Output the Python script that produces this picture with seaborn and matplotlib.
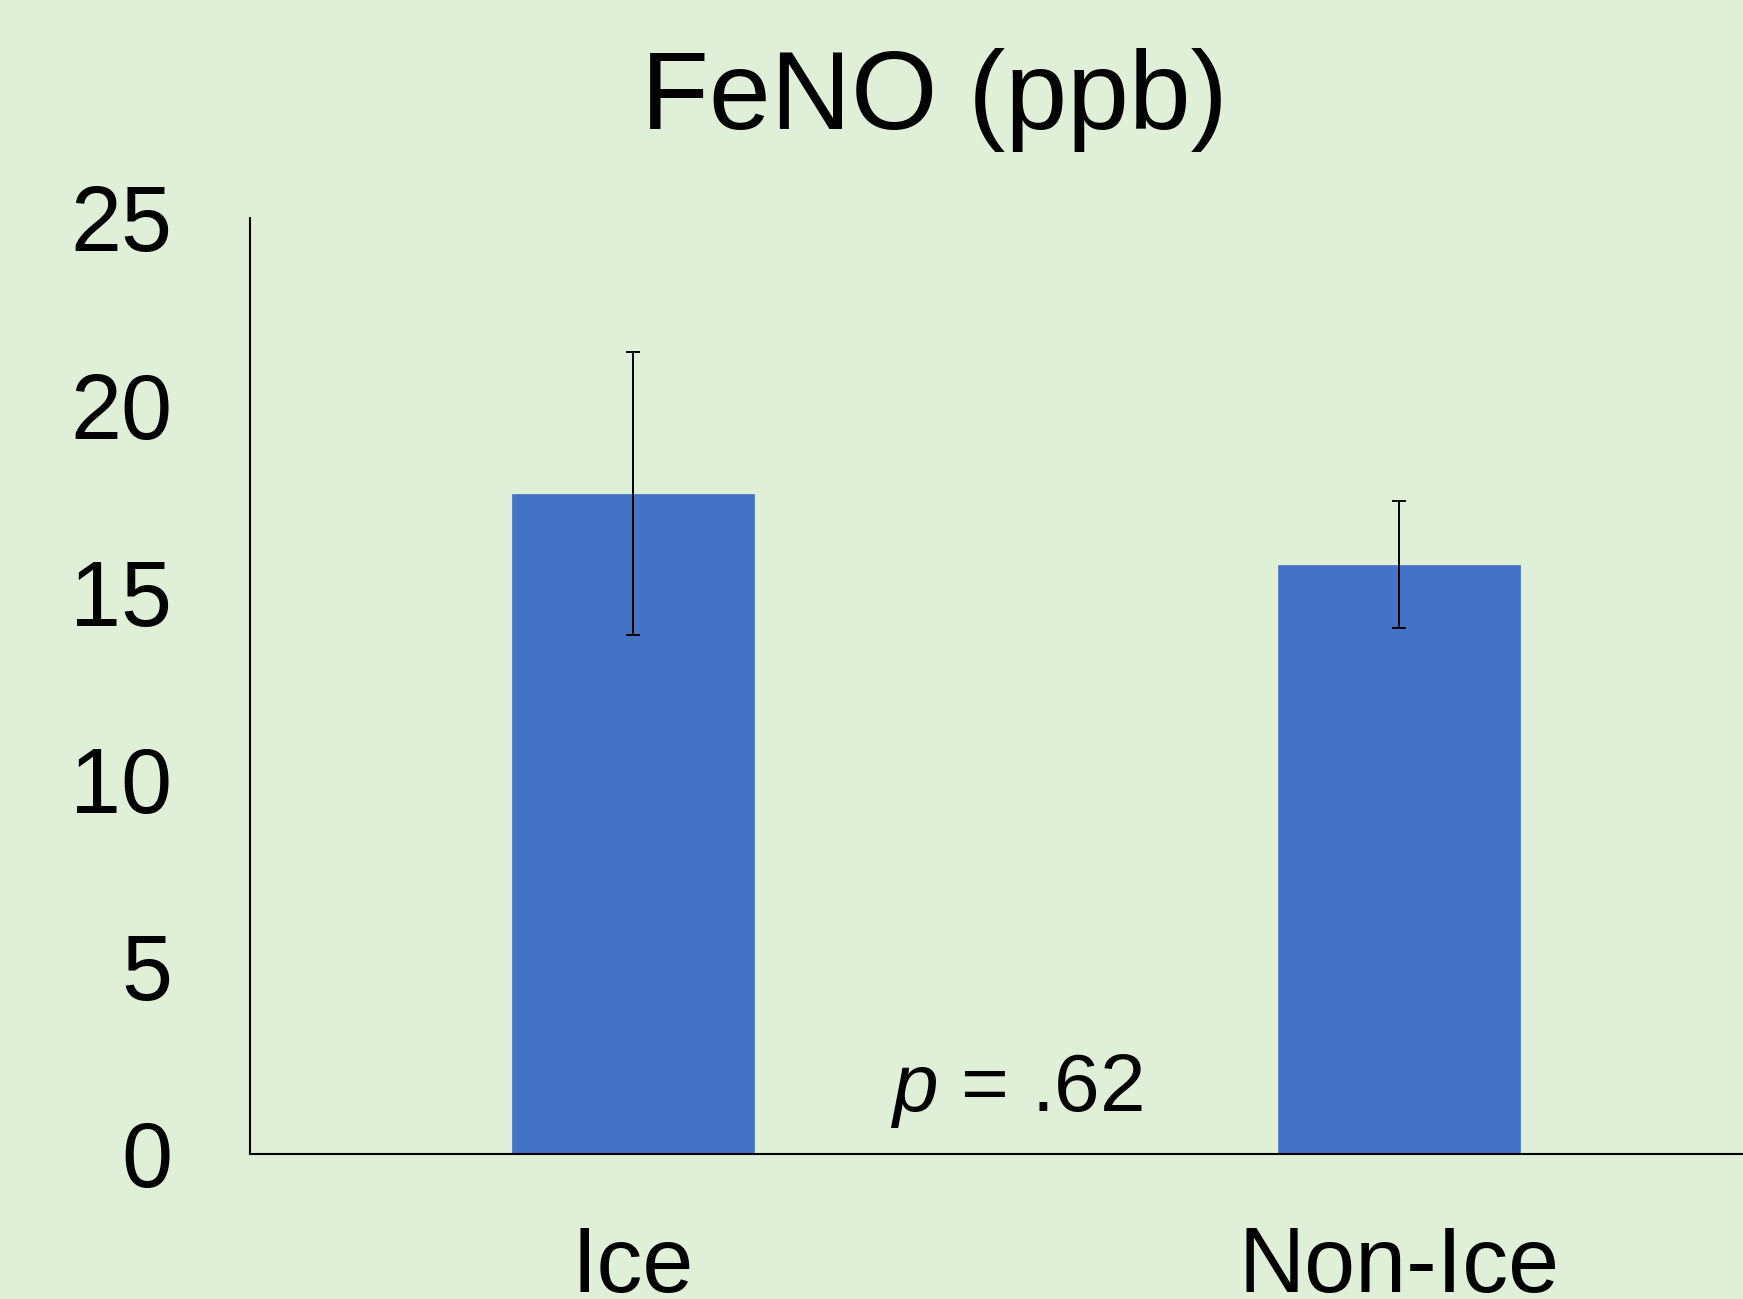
import matplotlib
matplotlib.use("Agg")
import matplotlib.pyplot as plt
import seaborn as sns
import pandas as pd

# Chart data
groups = ["Ice", "Non-Ice"]
feno_mean = [17.63, 15.74]
feno_err = [3.78, 1.70]
y_ticks = [0, 5, 10, 15, 20, 25]
p_label = r"$\mathit{p}$ = .62"

bg = "#DFEFD8"
bar_blue = "#4472C4"

sns.set_style("white")
plt.rcParams["font.family"] = ["Liberation Sans", "DejaVu Sans"]
plt.rcParams["mathtext.fontset"] = "custom"
plt.rcParams["mathtext.it"] = "Liberation Sans:italic"
plt.rcParams["mathtext.rm"] = "Liberation Sans"
plt.rcParams["text.color"] = "black"
plt.rcParams["xtick.color"] = "black"
plt.rcParams["ytick.color"] = "black"

df = pd.DataFrame({"group": groups, "feno": feno_mean})

fig = plt.figure(figsize=(17.43, 12.99), dpi=100, facecolor=bg)
# axis runs past the right edge of the picture, like the original slide
ax = fig.add_axes([250 / 1743, 145 / 1299, 1532 / 1743, 936 / 1299])
ax.set_facecolor(bg)

sns.barplot(data=df, x="group", y="feno", color=bar_blue, width=0.315,
            errorbar=None, saturation=1, edgecolor=bar_blue, linewidth=0.5,
            ax=ax)
ax.errorbar(range(len(groups)), feno_mean, yerr=feno_err, fmt="none",
            ecolor="black", elinewidth=1.4, capsize=4.7, capthick=1.4)

ax.set_xlim(-0.5, 1.5)
ax.set_ylim(0, 25)
ax.set_yticks(y_ticks)
ax.set_xlabel("")
ax.set_ylabel("")

for side in ["top", "right"]:
    ax.spines[side].set_visible(False)
for side in ["left", "bottom"]:
    ax.spines[side].set_color("black")
    ax.spines[side].set_linewidth(1.5)

ax.tick_params(axis="y", length=0, pad=56, labelsize=66, labelcolor="black")
ax.tick_params(axis="x", length=0, pad=51, labelsize=66, labelcolor="black")

ax.text(0.5, 1.16, p_label, ha="center", va="baseline", fontsize=59,
        color="black")

fig.text(934 / 1743, 1 - 129 / 1299, "FeNO (ppb)", ha="center",
         va="baseline", fontsize=80, color="black")

fig.savefig("out.png", dpi=100, facecolor=bg)
